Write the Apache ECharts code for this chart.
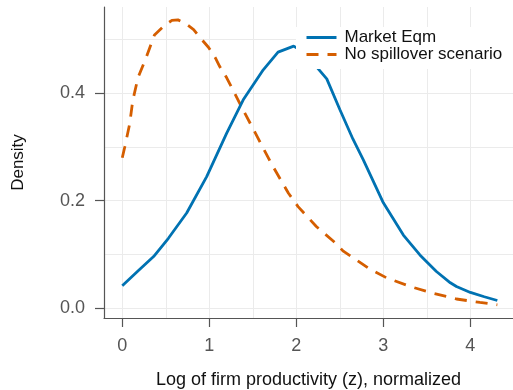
<!DOCTYPE html>
<html>
<head>
<meta charset="utf-8">
<script src="https://cdn.jsdelivr.net/npm/echarts@6/dist/echarts.min.js"></script>
<style>
  html, body { margin: 0; padding: 0; background: #fff; }
  #chart { width: 513px; height: 390px; }
</style>
</head>
<body>
<div id="chart"></div>
<script>
// Kernel density of log firm productivity under two scenarios
const marketZ = [0, 0.18, 0.36, 0.53, 0.74, 0.97, 1.2, 1.39, 1.62, 1.79, 1.97, 2.1, 2.23, 2.35, 2.5, 2.65, 2.77, 3.0, 3.23, 3.42, 3.61, 3.77, 3.84, 4.0, 4.16, 4.31];
const marketDensity = [0.0416, 0.069, 0.096, 0.130, 0.177, 0.245, 0.326, 0.388, 0.444, 0.477, 0.488, 0.475, 0.450, 0.427, 0.370, 0.315, 0.276, 0.196, 0.136, 0.099, 0.068, 0.047, 0.040, 0.029, 0.021, 0.014];

const noSpillZ = [0, 0.03, 0.085, 0.12, 0.18, 0.28, 0.37, 0.48, 0.57, 0.64, 0.72, 0.82, 0.91, 0.99, 1.07, 1.12, 1.2, 1.26, 1.37, 1.51, 1.72, 1.91, 2.02, 2.23, 2.43, 2.54, 2.85, 3.04, 3.31, 3.56, 3.84, 4.11, 4.31];
const noSpillDensity = [0.280, 0.301, 0.343, 0.386, 0.429, 0.469, 0.509, 0.526, 0.536, 0.537, 0.531, 0.519, 0.501, 0.486, 0.466, 0.450, 0.429, 0.410, 0.375, 0.332, 0.267, 0.214, 0.189, 0.152, 0.124, 0.106, 0.072, 0.056, 0.040, 0.028, 0.0168, 0.0105, 0.006];

const xTickValues = [0, 1, 2, 3, 4];
const xGridValues = [0, 0.5, 1, 1.5, 2, 2.5, 3, 3.5, 4, 4.5];
const yTickValues = [0, 0.2, 0.4];
const yGridValues = [0, 0.1, 0.2, 0.3, 0.4, 0.5];

const seriesNames = ['Market Eqm', 'No spillover scenario'];

const FONT = 'Liberation Sans, Arial, Helvetica, sans-serif';
const AXIS_COLOR = '#555555';
const GRID_COLOR = '#ebebeb';
const X_MIN = -0.21, X_MAX = 4.49;
const Y_MIN = -0.0186, Y_MAX = 0.561;

function pairs(xs, ys) { return xs.map((x, i) => [x, ys[i]]); }

const chart = echarts.init(document.getElementById('chart'), null, { renderer: 'canvas' });

chart.setOption({
  animation: false,
  backgroundColor: '#ffffff',
  grid: { left: 104, right: 0, top: 7, bottom: 72, containLabel: false, outerBoundsMode: 'none' },
  legend: {
    data: seriesNames,
    orient: 'vertical',
    left: 296,
    top: 27,
    itemWidth: 30,
    itemHeight: 16,
    itemGap: 0,
    padding: [2, 40, 6, 9],
    backgroundColor: '#ffffff',
    // keep only the line sample in each legend key
    itemStyle: { opacity: 0, borderWidth: 0 },
    lineStyle: { width: 3 },
    textStyle: { fontFamily: FONT, fontSize: 17, color: '#111', lineHeight: 16, padding: [0, 0, 0, 3] }
  },
  xAxis: [
    {
      type: 'value', min: X_MIN, max: X_MAX,
      name: 'Log of firm productivity (z), normalized',
      nameLocation: 'middle', nameGap: 53,
      nameTextStyle: { fontFamily: FONT, fontSize: 18, color: '#111' },
      axisLine: { show: true, onZero: false, lineStyle: { color: AXIS_COLOR, width: 1.2 } },
      axisTick: { show: true, inside: false, length: 9, customValues: xTickValues, lineStyle: { color: AXIS_COLOR, width: 1.2 } },
      axisLabel: { show: true, margin: 19, customValues: xTickValues, fontFamily: FONT, fontSize: 18, color: '#555' },
      splitLine: { show: false }
    },
    {
      type: 'value', min: X_MIN, max: X_MAX, position: 'bottom',
      axisLine: { show: false },
      axisTick: { show: false, customValues: xGridValues },
      axisLabel: { show: false, customValues: xGridValues },
      splitLine: { show: true, lineStyle: { color: GRID_COLOR, width: 1 } }
    }
  ],
  yAxis: [
    {
      type: 'value', min: Y_MIN, max: Y_MAX,
      name: 'Density',
      nameLocation: 'middle', nameGap: 77, nameRotate: 90,
      nameTextStyle: { fontFamily: FONT, fontSize: 17, color: '#111' },
      axisLine: { show: true, onZero: false, lineStyle: { color: AXIS_COLOR, width: 1.2 } },
      axisTick: { show: true, inside: false, length: 9, customValues: yTickValues, lineStyle: { color: AXIS_COLOR, width: 1.2 } },
      axisLabel: { show: true, margin: 19, customValues: yTickValues, fontFamily: FONT, fontSize: 18, color: '#555',
        formatter: v => v.toFixed(1) },
      splitLine: { show: false }
    },
    {
      type: 'value', min: Y_MIN, max: Y_MAX, position: 'left',
      axisLine: { show: false },
      axisTick: { show: false, customValues: yGridValues },
      axisLabel: { show: false, customValues: yGridValues },
      splitLine: { show: true, lineStyle: { color: GRID_COLOR, width: 1 } }
    }
  ],
  series: [
    {
      name: seriesNames[0], type: 'line', xAxisIndex: 0, yAxisIndex: 0,
      data: pairs(marketZ, marketDensity),
      symbol: 'none', showSymbol: false, smooth: false, z: 3,
      lineStyle: { color: '#0072B2', width: 2.8 },
      itemStyle: { color: '#0072B2' }
    },
    {
      name: seriesNames[1], type: 'line', xAxisIndex: 0, yAxisIndex: 0,
      data: pairs(noSpillZ, noSpillDensity),
      symbol: 'none', showSymbol: false, smooth: false, z: 2,
      lineStyle: { color: '#D55E00', width: 2.8, type: [12, 9] },
      itemStyle: { color: '#D55E00' }
    }
  ]
});
</script>
</body>
</html>
